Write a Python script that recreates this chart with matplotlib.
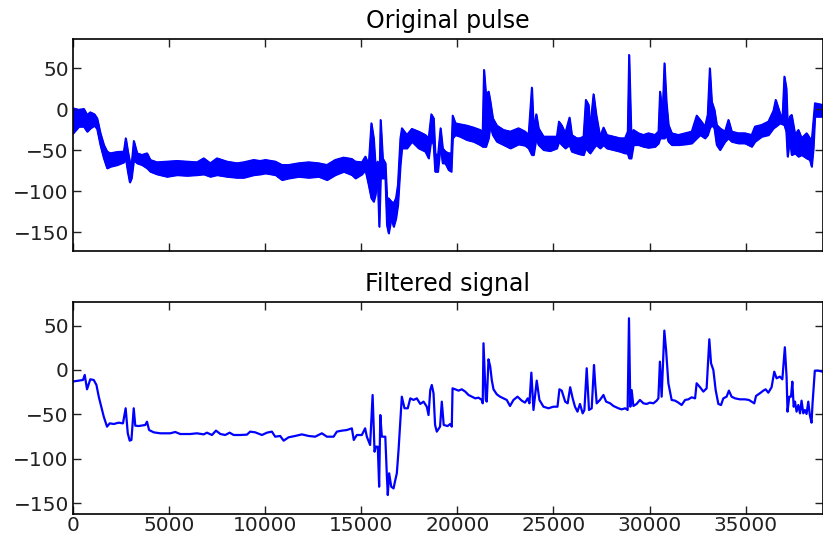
import matplotlib
matplotlib.use("Agg")
import matplotlib.pyplot as plt

# original pulse: noisy band, read as lower / upper edge of the trace
orig_x = [0, 300, 560, 730, 900, 1110, 1250, 1420, 1600, 1770, 1940, 2290, 2640, 2740,
          2850, 2950, 3040, 3160, 3330, 3590, 3850, 4020, 4370, 4890, 5410, 5930, 6450,
          6800, 7140, 7490, 8010, 8530, 8880, 9400, 9740, 10010, 10530, 10870, 11220,
          11740, 12260, 12780, 13210, 13640, 14080, 14510, 14690, 15030, 15210, 15380,
          15520, 15640, 15730, 15850, 15930, 16000, 16110, 16250, 16330, 16420, 16560,
          16680, 16800, 16900, 17030, 17110, 17370, 17630, 17980, 18330, 18500, 18640,
          18760, 18840, 18980, 19120, 19230, 19370, 19540, 19680, 19750, 19890, 20140,
          20490, 20840, 21180, 21310, 21380, 21480, 21620, 21710, 21840, 22050, 22400,
          22750, 23180, 23520, 23700, 23870, 23960, 24100, 24220, 24480, 24820, 25170,
          25280, 25430, 25610, 25830, 25950, 26210, 26380, 26560, 26680, 26820, 26900,
          27080, 27220, 27420, 27600, 27770, 28120, 28460, 28720, 28860, 28930, 29040,
          29160, 29420, 29680, 29940, 30280, 30460, 30540, 30670, 30770, 30870, 30980,
          31150, 31500, 31850, 32190, 32450, 32630, 32880, 33020, 33130, 33230, 33370,
          33490, 33660, 33920, 34100, 34270, 34620, 34960, 35310, 35480, 35830, 36180,
          36440, 36560, 36780, 36910, 37010, 37110, 37180, 37300, 37390, 37570, 37740,
          37910, 38170, 38340, 38430, 38520, 38600, 39000]
orig_hi = [1.2, -0.8, 0.4, -6.9, -3.7, -6.1, -11.0, -29.2, -43.4, -51.5, -53.6, -52.0,
           -51.5, -35.3, -51.5, -63.7, -67.8, -38.6, -53.6, -55.6, -53.6, -61.7, -64.5,
           -63.7, -62.9, -63.7, -64.5, -59.7, -65.7, -59.7, -63.7, -65.7, -64.5, -61.7,
           -62.9, -61.7, -63.7, -67.8, -67.8, -65.7, -64.5, -65.7, -67.8, -61.7, -58.8,
           -60.5, -63.7, -64.5, -57.6, -67.8, -17.0, -35.3, -67.8, -63.7, -100.2, -13.0,
           -59.7, -65.7, -108.4, -108.4, -112.4, -114.4, -108.4, -92.1, -35.3, -23.1,
           -31.3, -23.9, -27.2, -31.3, -35.3, -6.1, -11.0, -53.6, -57.6, -23.1, -47.5,
           -51.5, -53.6, -53.6, -7.7, -17.0, -18.3, -19.9, -22.3, -25.2, -27.2, 47.9,
           17.5, 21.5, 9.3, -11.0, -19.9, -25.2, -27.2, -23.1, -27.2, -31.3, 26.4, -23.1,
           -6.1, -23.1, -33.3, -33.3, -33.3, -15.0, -19.9, -29.2, -10.1, -31.3, -35.3,
           -35.3, -33.3, 11.4, 5.3, -23.1, 18.3, -6.9, -33.3, -22.3, -31.3, -33.3, -35.3,
           -35.3, -27.2, 66.2, -31.3, -25.2, -29.2, -31.3, -29.2, -31.3, -27.2, 21.5,
           -6.9, 56.0, 9.3, -19.1, -29.2, -31.3, -29.2, -27.2, -7.7, -13.0, -21.1, -6.9,
           49.9, 9.3, -0.8, -19.1, -23.1, -27.2, -13.0, -27.2, -29.2, -29.2, -31.3, -21.1,
           -19.1, -15.0, -2.0, 11.4, -4.9, -11.0, 39.8, 25.6, -19.1, -8.9, -6.9, -31.3,
           -25.2, -35.3, -29.2, -35.3, -39.4, -15.0, 7.3, 5.3]
orig_lo = [-29.2, -21.1, -21.1, -27.2, -23.1, -19.9, -23.9, -43.4, -59.7, -71.8, -69.8,
           -67.8, -64.5, -59.7, -75.9, -88.9, -84.0, -61.7, -65.7, -67.8, -71.8, -75.9,
           -79.1, -82.0, -80.0, -80.8, -80.0, -79.1, -82.0, -80.0, -82.0, -83.2, -83.2,
           -80.0, -79.1, -77.9, -80.0, -86.0, -84.0, -82.0, -83.2, -82.0, -86.0, -80.0,
           -75.9, -80.0, -84.0, -79.1, -73.9, -92.1, -108.4, -112.4, -104.3, -84.0,
           -142.9, -84.0, -84.0, -84.0, -140.8, -151.0, -132.7, -142.9, -132.7, -116.5,
           -67.8, -47.5, -47.5, -39.4, -47.5, -51.5, -59.7, -35.3, -43.4, -75.9, -75.9,
           -43.4, -65.7, -65.7, -73.9, -75.9, -35.3, -31.3, -33.3, -37.3, -39.4, -43.4,
           -45.5, -45.5, -45.5, -35.3, -19.1, -31.3, -39.4, -43.4, -47.5, -42.6, -44.2,
           -47.5, -55.6, -55.6, -35.3, -43.4, -49.5, -50.7, -47.5, -39.4, -43.4, -47.5,
           -43.4, -51.5, -53.6, -54.8, -55.6, -47.5, -51.5, -53.6, -47.5, -43.4, -47.5,
           -43.4, -47.5, -49.5, -51.5, -53.6, -53.6, -59.7, -59.7, -43.4, -43.4, -45.5,
           -46.7, -45.5, -41.4, -35.3, -35.3, -35.3, -31.3, -39.4, -43.4, -43.4, -42.6,
           -41.4, -35.3, -31.3, -35.3, -31.3, -23.1, -19.1, -23.1, -43.4, -49.5, -39.4,
           -35.3, -39.4, -41.4, -41.4, -45.5, -39.4, -33.3, -31.3, -23.1, -21.1, -17.0,
           -18.3, -19.1, -27.2, -57.6, -35.3, -55.6, -53.6, -57.6, -55.6, -59.7, -61.7,
           -69.8, -47.5, -8.9, -8.9]

# filtered signal
filt_x = [0, 520, 610, 730, 900, 1080, 1220, 1340, 1510, 1600, 1770, 1910, 2120, 2380,
          2600, 2740, 2850, 2950, 3040, 3160, 3240, 3420, 3760, 3850, 3960, 4200, 4540,
          5060, 5320, 5580, 6100, 6450, 6800, 6970, 7230, 7440, 7670, 7920, 8150, 8360,
          8700, 9050, 9220, 9480, 9830, 10090, 10350, 10520, 10780, 10960, 11220, 11560,
          11910, 12260, 12600, 12950, 13210, 13560, 13730, 13990, 14250, 14510, 14610,
          14770, 15030, 15200, 15290, 15460, 15590, 15690, 15760, 15860, 15930, 15990,
          16070, 16250, 16330, 16380, 16450, 16560, 16680, 16770, 16850, 16940, 17110,
          17250, 17420, 17550, 17720, 17890, 18070, 18240, 18410, 18500, 18590, 18670,
          18760, 18840, 18930, 19100, 19190, 19290, 19490, 19630, 19710, 19750, 19890,
          20060, 20230, 20410, 20580, 20750, 20930, 21100, 21270, 21320, 21360, 21480,
          21530, 21620, 21710, 21790, 21880, 22050, 22220, 22400, 22570, 22740, 22920,
          23130, 23350, 23520, 23660, 23750, 23850, 23960, 24130, 24270, 24480, 24740,
          25000, 25210, 25310, 25430, 25610, 25740, 25870, 26000, 26120, 26250, 26380,
          26520, 26610, 26730, 26850, 26990, 27110, 27170, 27250, 27420, 27600, 27740,
          27950, 28120, 28380, 28550, 28730, 28860, 28930, 29000, 29070, 29160, 29330,
          29500, 29680, 29850, 30020, 30200, 30370, 30460, 30540, 30630, 30770, 30860,
          30980, 31150, 31330, 31500, 31670, 31850, 32020, 32190, 32370, 32450, 32630,
          32800, 32970, 33110, 33200, 33320, 33440, 33580, 33720, 33840, 34010, 34130,
          34270, 34450, 34700, 34960, 35170, 35310, 35450, 35540, 35740, 35920, 36040,
          36180, 36350, 36490, 36610, 36780, 36910, 37040, 37130, 37180, 37270, 37360,
          37430, 37500, 37570, 37650, 37740, 37830, 37910, 38000, 38080, 38170, 38260,
          38340, 38430, 38480, 38600, 38780, 39000]
filt_y = [-13.0, -11.3, -5.6, -21.8, -10.5, -11.3, -16.9, -30.1, -45.1, -52.6, -63.9,
          -60.2, -60.9, -59.4, -60.2, -43.2, -71.4, -79.7, -78.9, -43.2, -62.8, -63.2,
          -62.0, -58.3, -67.7, -70.3, -71.4, -71.4, -69.9, -72.2, -72.2, -71.4, -72.6,
          -70.7, -73.3, -68.4, -72.2, -73.3, -70.7, -73.3, -73.3, -72.9, -69.5, -70.3,
          -73.3, -70.7, -69.5, -75.2, -74.4, -79.7, -75.9, -74.4, -72.6, -74.4, -75.2,
          -71.4, -75.2, -75.2, -69.5, -68.4, -67.7, -65.8, -78.9, -73.3, -73.3, -65.8,
          -75.2, -84.6, -28.2, -92.1, -86.5, -86.5, -131.6, -50.8, -75.2, -75.2, -118.4,
          -141.0, -116.5, -131.6, -133.5, -124.1, -116.5, -90.2, -30.1, -43.2, -43.2,
          -32.0, -33.8, -32.0, -38.3, -35.7, -41.4, -50.8, -22.6, -16.9, -26.3, -62.0,
          -69.5, -63.9, -35.7, -62.0, -63.2, -60.9, -63.9, -20.7, -21.8, -23.3, -21.8,
          -24.4, -28.2, -30.1, -32.0, -31.2, -33.8, -37.6, 30.1, -33.8, -35.7, 12.0,
          3.8, -11.3, -21.8, -27.4, -30.1, -32.0, -33.8, -40.6, -33.8, -30.1, -34.6,
          -36.8, -32.0, -37.6, -3.0, -45.1, -12.0, -33.8, -41.4, -43.2, -41.4, -41.4,
          -21.8, -23.3, -35.7, -37.6, -19.5, -32.0, -41.4, -47.0, -38.3, -48.9, -45.1,
          1.9, -45.1, -43.2, 5.6, -15.0, -37.6, -33.8, -28.2, -35.7, -37.6, -40.6, -43.2,
          -44.4, -43.2, -45.1, 58.3, -41.4, -22.6, -40.6, -38.3, -33.8, -37.6, -38.3,
          -36.8, -37.6, -34.6, -32.0, 9.4, -30.1, 44.4, 22.6, -15.0, -33.8, -34.6, -36.8,
          -39.5, -33.8, -33.1, -30.8, -32.0, -15.0, -19.5, -24.4, -20.7, 34.6, 7.5, 0.0,
          -22.6, -38.3, -39.5, -32.0, -30.1, -23.3, -30.1, -32.0, -33.1, -33.1, -33.8,
          -35.7, -37.6, -29.3, -26.3, -23.3, -21.8, -25.6, -19.5, -1.9, -9.4, -7.5, -10.5,
          25.6, -7.5, -47.0, -30.1, -30.1, -13.2, -41.4, -35.7, -47.0, -39.5, -48.9,
          -34.6, -48.9, -45.1, -49.6, -35.7, -50.8, -59.4, -38.3, -0.8, -0.8, -1.9]

titles = ["Original pulse", "Filtered signal"]
y_ticks = [-150, -100, -50, 0, 50]
x_ticks = [0, 5000, 10000, 15000, 20000, 25000, 30000, 35000]


def style_axis(ax, title):
    ax.set_title(title, fontsize=17, pad=8)
    ax.set_xlim(0, 39000)
    ax.set_xticks(x_ticks)
    ax.set_yticks(y_ticks)
    ax.tick_params(direction='in', length=6, width=1, top=True, right=True,
                   labelsize=14.5, colors='#222222')
    ax.tick_params(axis='y', pad=3)
    ax.tick_params(axis='x', pad=1.5)
    for s in ax.spines.values():
        s.set_linewidth(1.2)


def main():
    plt.rcParams['font.family'] = ['DejaVu Sans']
    fig = plt.figure(figsize=(8.23, 5.41), dpi=100)
    ax1 = fig.add_axes([0.0887, 0.5355, 0.9107, 0.3919])
    ax2 = fig.add_axes([0.0887, 0.0505, 0.9107, 0.3919], sharex=ax1)

    ax1.fill_between(orig_x, orig_lo, orig_hi, color='b', lw=1.2)
    ax1.plot(orig_x, orig_hi, color='b', lw=1.2)
    ax1.plot(orig_x, orig_lo, color='b', lw=1.2)
    style_axis(ax1, titles[0])
    ax1.set_ylim(-173, 85)
    ax1.tick_params(labelbottom=False)

    ax2.plot(filt_x, filt_y, color='b', lw=1.6)
    style_axis(ax2, titles[1])
    ax2.set_ylim(-162, 77)

    fig.savefig("out.png", dpi=100)


if __name__ == '__main__':
    main()
